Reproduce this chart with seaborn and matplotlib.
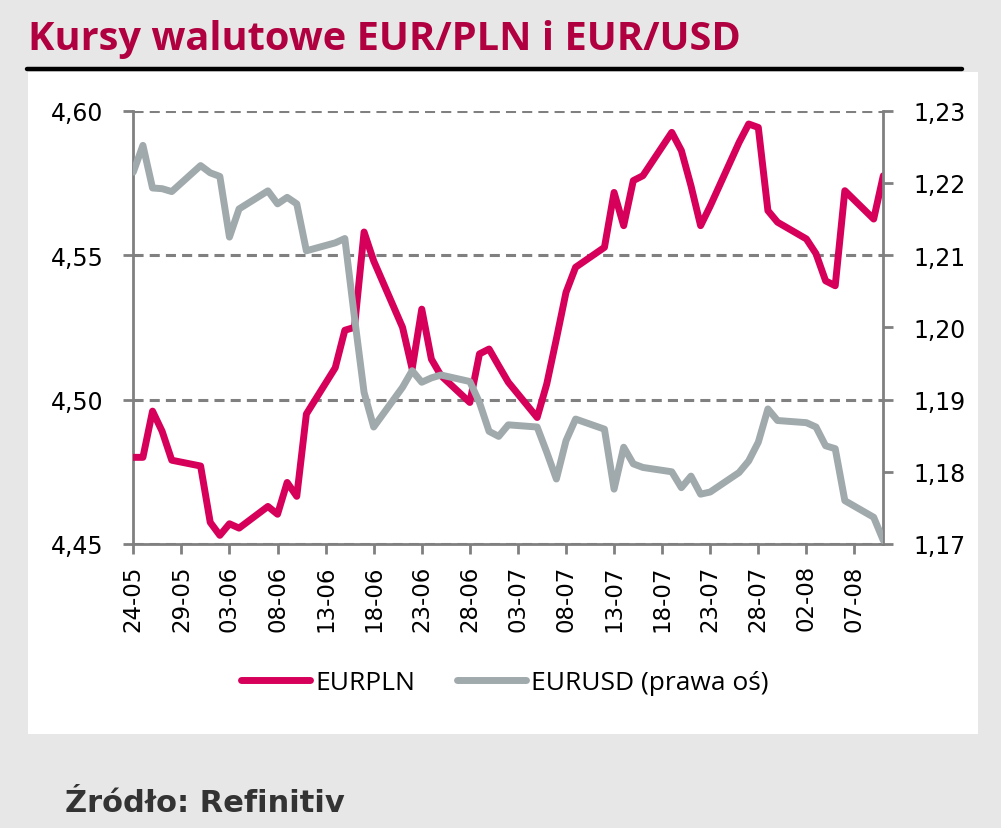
import matplotlib
matplotlib.use("Agg")
import matplotlib.pyplot as plt
import matplotlib.dates as mdates
from matplotlib.ticker import FuncFormatter, FixedLocator
from matplotlib.patches import Rectangle
from matplotlib.lines import Line2D
import seaborn as sns
import pandas as pd

# ---------------- data ----------------
pln_dates = ["2021-05-24", "2021-05-25", "2021-05-26", "2021-05-27", "2021-05-28",
             "2021-05-31", "2021-06-01", "2021-06-02", "2021-06-03", "2021-06-04",
             "2021-06-07", "2021-06-08", "2021-06-09", "2021-06-10", "2021-06-11",
             "2021-06-14", "2021-06-15", "2021-06-16", "2021-06-17", "2021-06-18",
             "2021-06-21", "2021-06-22", "2021-06-23", "2021-06-24", "2021-06-25",
             "2021-06-28", "2021-06-29", "2021-06-30", "2021-07-01", "2021-07-02",
             "2021-07-05", "2021-07-06", "2021-07-07", "2021-07-08", "2021-07-09",
             "2021-07-12", "2021-07-13", "2021-07-14", "2021-07-15", "2021-07-16",
             "2021-07-19", "2021-07-20", "2021-07-21", "2021-07-22", "2021-07-23",
             "2021-07-26", "2021-07-27", "2021-07-28", "2021-07-29", "2021-07-30",
             "2021-08-02", "2021-08-03", "2021-08-04", "2021-08-05", "2021-08-06",
             "2021-08-09", "2021-08-10"]
eurpln = [4.480, 4.480, 4.496, 4.489, 4.479,
          4.477, 4.4575, 4.453, 4.457, 4.4555,
          4.463, 4.4603, 4.4713, 4.4665, 4.495,
          4.511, 4.524, 4.525, 4.558, 4.548,
          4.525, 4.5106, 4.5313, 4.514, 4.5083,
          4.499, 4.5158, 4.5175, 4.5117, 4.506,
          4.4938, 4.5054, 4.521, 4.5371, 4.5458,
          4.5527, 4.5717, 4.5602, 4.5758, 4.5775,
          4.5925, 4.5862, 4.574, 4.5602, 4.567,
          4.589, 4.5954, 4.5942, 4.5654, 4.5614,
          4.5556, 4.5505, 4.5411, 4.5394, 4.5723,
          4.5625, 4.5775]

usd_dates = pln_dates
eurusd = [1.2215, 1.2252, 1.2193, 1.2192, 1.2188,
          1.2224, 1.2214, 1.2209, 1.2125, 1.2164,
          1.2189, 1.2171, 1.2180, 1.2171, 1.2106,
          1.2117, 1.2123, 1.2014, 1.1910, 1.1862,
          1.1917, 1.1940, 1.1924, 1.1930, 1.1934,
          1.1925, 1.1896, 1.1856, 1.1849, 1.1865,
          1.1862, 1.1827, 1.1790, 1.1843, 1.1873,
          1.1859, 1.1776, 1.1834, 1.1811, 1.1806,
          1.1800, 1.1778, 1.1794, 1.1769, 1.1772,
          1.1799, 1.1815, 1.1841, 1.1887, 1.1871,
          1.1868, 1.1862, 1.1836, 1.1832, 1.1760,
          1.1737, 1.1705]

left_ticks = [4.45, 4.50, 4.55, 4.60]
right_ticks = [1.17, 1.18, 1.19, 1.20, 1.21, 1.22, 1.23]
x_start, x_end = "2021-05-24", "2021-08-10"
x_tick_dates = pd.date_range("2021-05-24", "2021-08-07", freq="5D")

title = "Kursy walutowe EUR/PLN i EUR/USD"
source = "Źródło: Refinitiv"
label_pln = "EURPLN"
label_usd = "EURUSD (prawa oś)"

PINK = "#d6005b"
GRAY = "#a0a9ab"
TITLE_C = "#b0003f"
AXIS_C = "#808080"

df_pln = pd.DataFrame({"date": pd.to_datetime(pln_dates), "value": eurpln})
df_usd = pd.DataFrame({"date": pd.to_datetime(usd_dates), "value": eurusd})

# ---------------- figure ----------------
sns.set_theme(style="white")
plt.rcParams["font.family"] = ["DejaVu Sans"]

W, H = 1001, 829
fig = plt.figure(figsize=(W / 100, H / 100), dpi=100, facecolor="#e7e7e7")

def fx(px):
    return px / W

def fy(py):
    return 1 - py / H

fig.patches.append(Rectangle((fx(28), fy(735)), fx(978 - 28), (735 - 73) / H,
                             transform=fig.transFigure, facecolor="white",
                             edgecolor="none", zorder=-10))
fig.add_artist(Line2D([fx(27), fx(962)], [fy(70), fy(70)], color="black", lw=3.2))

fig.text(fx(28), fy(50), title, color=TITLE_C, fontsize=28.6, fontweight="bold",
         family=["Open Sans", "DejaVu Sans"], ha="left", va="baseline")
fig.text(fx(65), fy(812), source, color="#333333", fontsize=22, fontweight="bold",
         family=["DejaVu Sans"], ha="left", va="baseline")

ax = fig.add_axes([fx(133.3), fy(545), fx(883.3 - 133.3), (545 - 111.7) / H])
ax.set_facecolor("none")
ax.set_zorder(2)

sns.lineplot(data=df_pln, x="date", y="value", ax=ax, color=PINK, lw=5,
             legend=False, solid_joinstyle="round", solid_capstyle="round", zorder=3)
ax2 = ax.twinx()
ax2.set_zorder(3)
ax2.set_facecolor("none")
sns.lineplot(data=df_usd, x="date", y="value", ax=ax2, color=GRAY, lw=5,
             legend=False, solid_joinstyle="round", solid_capstyle="round", zorder=3)

ax.set_xlim(pd.Timestamp(x_start), pd.Timestamp(x_end))
ax.set_ylim(4.45, 4.60)
ax2.set_ylim(1.17, 1.23)

comma = FuncFormatter(lambda v, p: f"{v:.2f}".replace(".", ","))
ax.yaxis.set_major_locator(FixedLocator(left_ticks))
ax.yaxis.set_major_formatter(comma)
ax2.yaxis.set_major_locator(FixedLocator(right_ticks))
ax2.yaxis.set_major_formatter(comma)
ax.xaxis.set_major_locator(FixedLocator(mdates.date2num(x_tick_dates)))
ax.xaxis.set_major_formatter(mdates.DateFormatter("%d-%m"))

ax.set_xlabel("")
ax.set_ylabel("")
ax2.set_ylabel("")

ax.grid(axis="y", color=AXIS_C, lw=2.2, linestyle=(0, (3.3, 2.0)))
ax.grid(axis="x", visible=False)
ax2.grid(False)

for a in (ax, ax2):
    for s in a.spines.values():
        s.set_visible(False)
ax.spines["left"].set_visible(True)
ax.spines["bottom"].set_visible(True)
ax2.spines["right"].set_visible(True)
for s in (ax.spines["left"], ax.spines["bottom"], ax2.spines["right"]):
    s.set_color(AXIS_C)
    s.set_linewidth(2)

ax.tick_params(axis="y", which="major", direction="out", length=7.5, width=2,
               color=AXIS_C, labelsize=17, pad=14, labelcolor="black", left=True)
ax.tick_params(axis="x", which="major", direction="out", length=7.5, width=2,
               color=AXIS_C, labelsize=16.5, pad=7, labelcolor="black",
               labelrotation=90, bottom=True)
ax2.tick_params(axis="y", which="major", direction="out", length=7.5, width=2,
                color=AXIS_C, labelsize=17, pad=14, labelcolor="black", right=True)

handles = [Line2D([], [], color=PINK, lw=5, solid_capstyle="round"),
           Line2D([], [], color=GRAY, lw=5, solid_capstyle="round")]
fig.legend(handles, [label_pln, label_usd], loc="center", ncol=2,
           bbox_to_anchor=(fx(505), fy(684)), frameon=False,
           prop={"family": ["Open Sans", "DejaVu Sans"], "size": 19},
           labelcolor="black",
           handlelength=2.6, handletextpad=0.2, columnspacing=1.6)

fig.savefig("out.png", dpi=100, facecolor=fig.get_facecolor())
